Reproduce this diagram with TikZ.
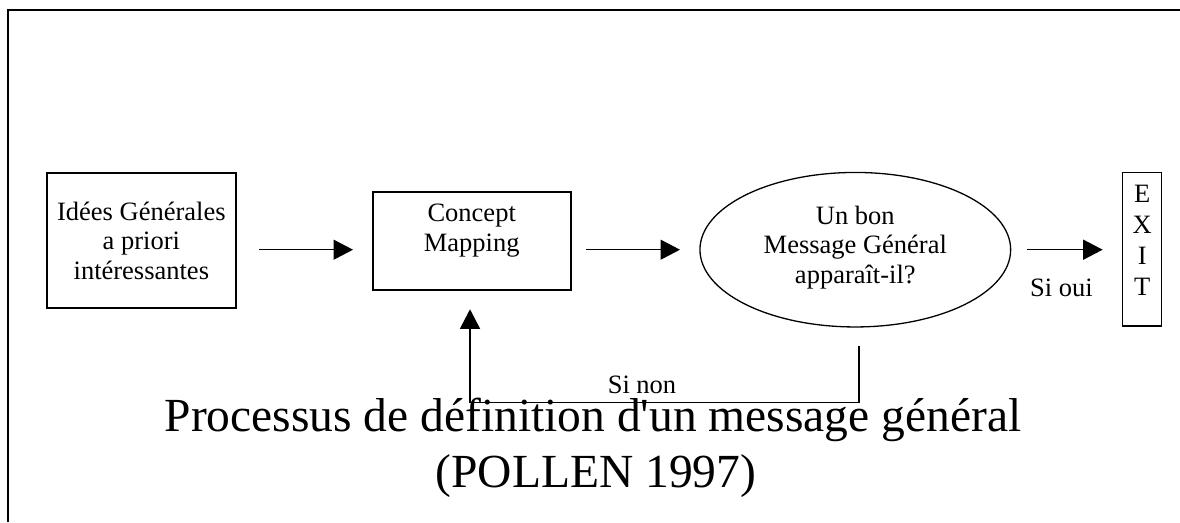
\documentclass[tikz,border=0pt]{standalone}
\usepackage{fontspec}
\setmainfont{Liberation Serif}
\usetikzlibrary{arrows.meta,shapes.geometric,calc}
\begin{document}
\begin{tikzpicture}[x=1pt,y=-1pt,
  thickbox/.style={draw, line width=2pt, inner sep=0pt},
  thinshape/.style={draw, line width=1.3pt, inner sep=0pt},
  txt/.style={font=\fontsize{26.5}{30.5}\selectfont, inner sep=0pt, anchor=base},
  ttl/.style={font=\fontsize{47.5}{56}\selectfont, inner sep=0pt, anchor=base},
  arr/.style={line width=1.3pt, -{Triangle[length=19.5pt,width=20pt]}},
  frameline/.style={line width=2.4pt}]
\useasboundingbox (0,0) rectangle (1180,522);
% partial outer frame
\draw[frameline] (8,522) -- (8,10) -- (1180,10);

% shapes
\node[thickbox, minimum width=189.3pt, minimum height=135pt] (ideas) at (141.35,240.2) {};
\node[thickbox, minimum width=198pt, minimum height=98.3pt] (cmap) at (471.7,240.85) {};
\node[thinshape, ellipse, minimum width=310.7pt, minimum height=154.5pt] (msg) at (855.3,249.7) {};
\node[thinshape, minimum width=39pt, minimum height=153.3pt] (exit) at (1142.2,249.35) {};

% texts
\node[txt] (ideas1) at (141.35,220) {Idées Générales};
\node[txt] (ideas2) at (141.35,249.5) {a priori};
\node[txt] (ideas3) at (141.35,279) {intéressantes};

\node[txt] (cmap1) at (471.7,221.5) {Concept};
\node[txt] (cmap2) at (471.7,251) {Mapping};

\node[txt] (msg1) at (855.3,224) {Un bon};
\node[txt] (msg2) at (855.3,253.5) {Message Général};
\node[txt] (msg3) at (855.3,283) {apparaît-il?};

\node[txt] (exitE) at (1142.2,202.3) {E};
\node[txt] (exitX) at (1142.2,233.3) {X};
\node[txt] (exitI) at (1142.2,264) {I};
\node[txt] (exitT) at (1142.2,295) {T};

\node[txt] (oui) at (1061.4,296.7) {Si oui};
\node[txt] (non) at (642,393) {Si non};

% connectors
\draw[arr, shorten <=22pt, shorten >=18.7pt] (ideas.east |- msg.center) -- (cmap.west |- msg.center);
\draw[arr, shorten <=14.3pt, shorten >=19.3pt] (cmap.east |- msg.center) -- (msg.west);
\draw[arr, shorten <=15.3pt, shorten >=19.4pt] (msg.east) -- (exit.west |- msg.center);

\coordinate (fb) at (0,402.7);
\draw[arr, shorten <=18pt, shorten >=18.3pt]
  ([xshift=3.7pt]msg.south) -- ([xshift=3.7pt]msg.south |- fb)
  -- ([xshift=-1.7pt]cmap.south |- fb) -- ([xshift=-1.7pt]cmap.south);

% title
\node[ttl] (title1) at (593,431) {Processus de définition d\textquotesingle un message général};
\node[ttl] (title2) at (596,487) {(POLLEN 1997)};
\end{tikzpicture}
\end{document}
